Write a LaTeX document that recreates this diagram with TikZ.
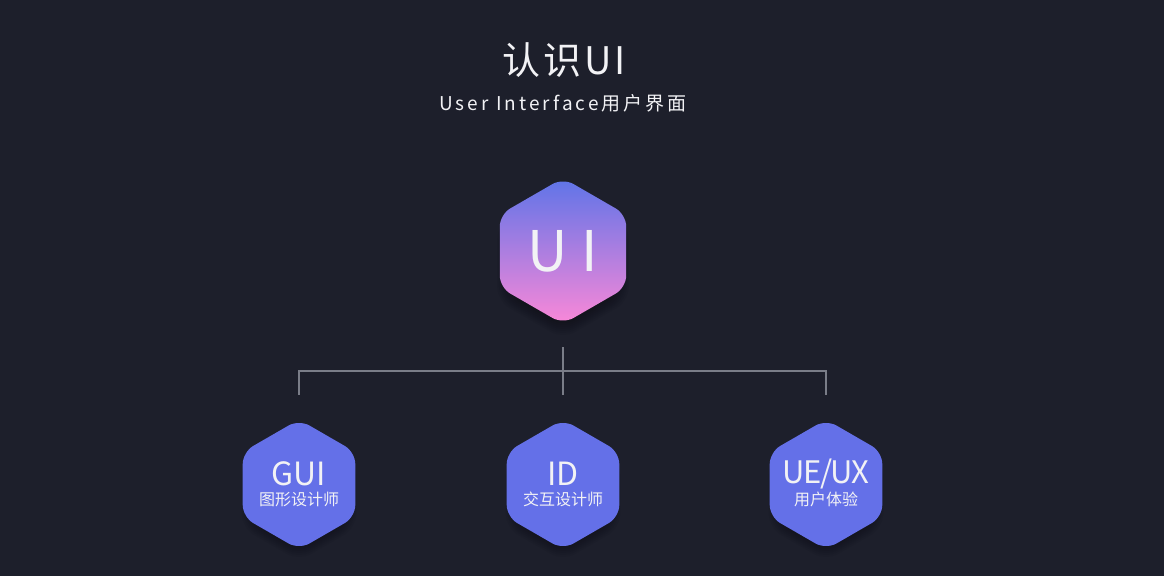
\documentclass[tikz,border=0pt]{standalone}
\usepackage{fontspec}
\setmainfont{Noto Sans CJK SC}
\newfontfamily\titlefont[LetterSpace=8]{Noto Sans CJK SC}
\newfontfamily\subfont[LetterSpace=16]{Noto Sans CJK SC}
\newfontfamily\uifont[LetterSpace=25]{Noto Sans CJK SC}
\newfontfamily\tightfont[LetterSpace=-5]{Noto Sans CJK SC}
\usetikzlibrary{shapes.geometric}
\definecolor{bg}{HTML}{1D1F2B}
\definecolor{uitop}{HTML}{5E74E8}
\definecolor{uibot}{HTML}{FA88D8}
\definecolor{hexfill}{HTML}{6470E8}
\definecolor{conn}{HTML}{7A7D88}
\definecolor{txt}{HTML}{F2F2F5}
\tikzset{
  hexbase/.style={regular polygon, regular polygon sides=6, shape border rotate=30,
    inner sep=0pt, rounded corners=12pt, draw=none},
  hexbig/.style={hexbase, minimum size=146pt, top color=uitop, bottom color=uibot},
  hexsmall/.style={hexbase, minimum size=130pt, fill=hexfill},
  connline/.style={draw=conn, line width=2pt},
  lbl/.style={text=txt, inner sep=0pt, anchor=center},
}
\newcommand\hexshadow[4]{% cx, cy, radius, steps
  \foreach \k in {0,...,#4}{
    \fill[black, opacity=0.045, rounded corners=14pt, shift={(#1,#2)}]
      (90:#3-\k*2) -- (150:#3-\k*2) -- (210:#3-\k*2) -- (270:#3-\k*2)
      -- (330:#3-\k*2) -- (30:#3-\k*2) -- cycle;
  }}
\begin{document}
\begin{tikzpicture}[x=1pt,y=1pt]
\fill[bg] (0,0) rectangle (1164,576);
\useasboundingbox (0,0) rectangle (1164,576);

% titles
\node[lbl] (title) at (564,516) {\titlefont\fontsize{38pt}{44pt}\selectfont 认识UI};
\node[lbl] (subtitle) at (563,473) {\subfont\fontsize{19pt}{22pt}\selectfont User Interface用户界面};

% shadows
\hexshadow{563}{313}{76}{6}
\hexshadow{299}{81}{66}{6}
\hexshadow{563}{81}{66}{6}
\hexshadow{826}{81}{66}{6}

% hexagons
\node[hexbig] (ui) at (563,325) {};
\node[hexsmall] (gui) at (299,91.5) {};
\node[hexsmall] (id) at (563,91.5) {};
\node[hexsmall] (ux) at (826,91.5) {};

% texts
\node[lbl] (uit) at (ui.center) {\uifont\fontsize{56pt}{60pt}\selectfont UI};
\node[lbl] (guit) at ([yshift=11pt]gui.center) {\fontsize{32pt}{36pt}\selectfont GUI};
\node[lbl] (guis) at ([yshift=-15pt]gui.center) {\fontsize{16pt}{18pt}\selectfont 图形设计师};
\node[lbl] (idt) at ([yshift=11pt]id.center) {\fontsize{32pt}{36pt}\selectfont ID};
\node[lbl] (ids) at ([yshift=-15pt]id.center) {\fontsize{16pt}{18pt}\selectfont 交互设计师};
\node[lbl] (uxt) at ([yshift=11pt]ux.center) {\tightfont\fontsize{31pt}{36pt}\selectfont UE/UX};
\node[lbl] (uxs) at ([yshift=-15pt]ux.center) {\fontsize{16pt}{18pt}\selectfont 用户体验};

% connectors
\draw[connline] ([yshift=-23pt]ui.south) -- ([yshift=24.5pt]id.north);
\draw[connline] ([yshift=24.5pt]gui.north) |- ([yshift=-47pt]ui.south) -| ([yshift=24.5pt]ux.north);
\end{tikzpicture}
\end{document}
